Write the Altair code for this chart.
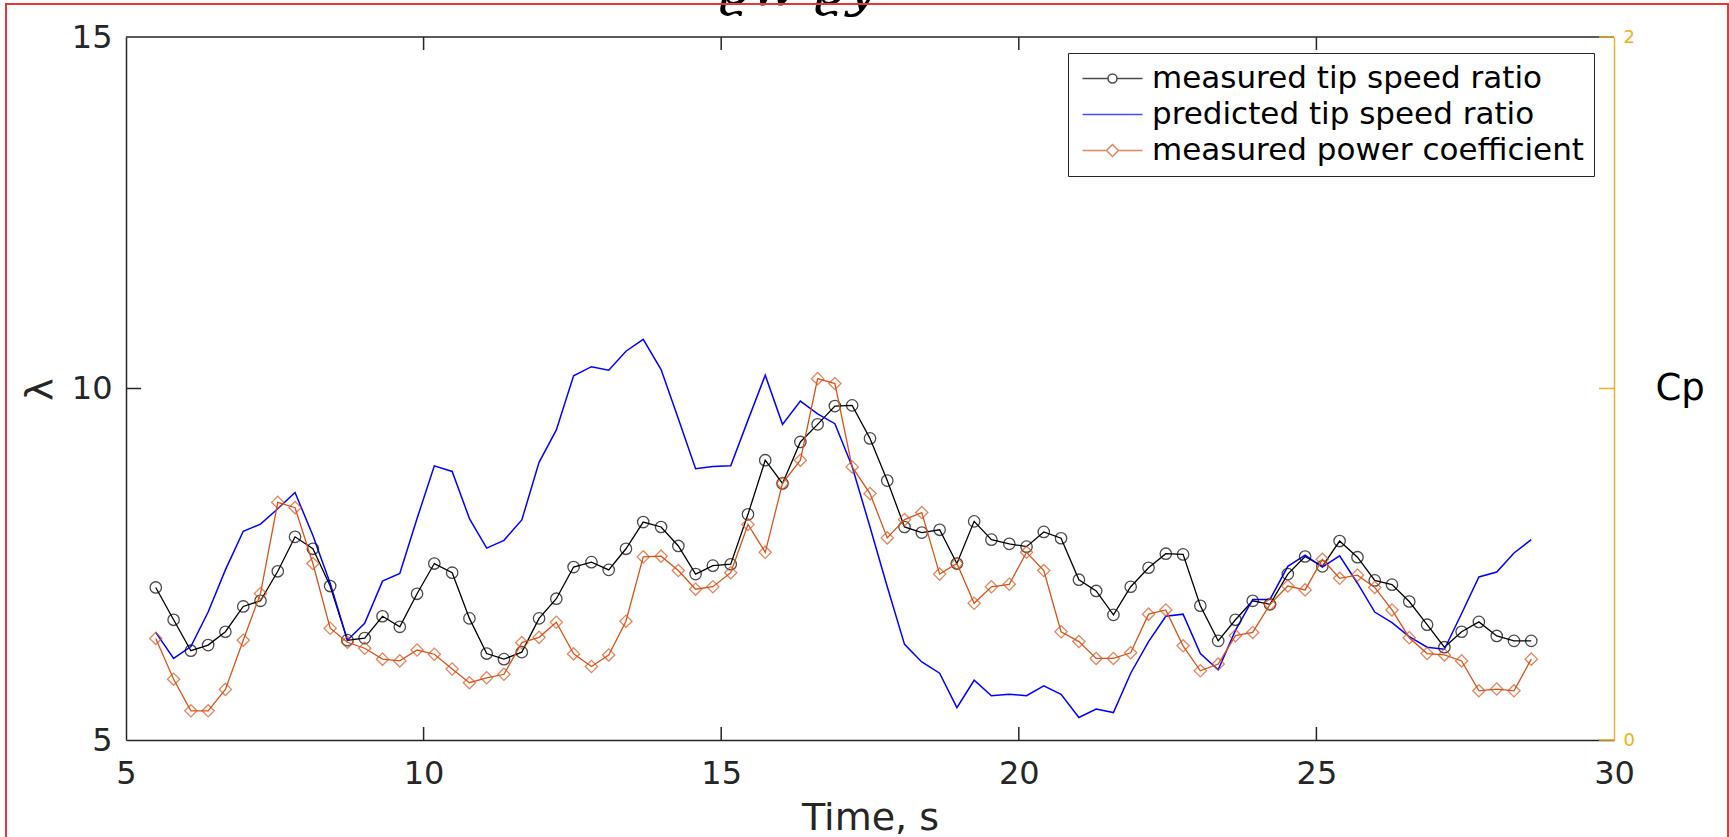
import altair as alt
import pandas as pd

# ---------------- data ----------------
time_s = [5.50, 5.80, 6.09, 6.38, 6.67, 6.97, 7.26, 7.55, 7.84, 8.14,
          8.43, 8.72, 9.01, 9.31, 9.60, 9.89, 10.18, 10.48, 10.77, 11.06,
          11.35, 11.65, 11.94, 12.23, 12.52, 12.82, 13.11, 13.40, 13.69, 13.99,
          14.28, 14.57, 14.86, 15.16, 15.45, 15.74, 16.03, 16.33, 16.62, 16.91,
          17.20, 17.50, 17.79, 18.08, 18.37, 18.67, 18.96, 19.25, 19.54, 19.84,
          20.13, 20.42, 20.71, 21.01, 21.30, 21.59, 21.88, 22.18, 22.47, 22.76,
          23.05, 23.35, 23.64, 23.93, 24.22, 24.52, 24.81, 25.10, 25.39, 25.69,
          25.98, 26.27, 26.56, 26.86, 27.15, 27.44, 27.73, 28.03, 28.32, 28.61]

lambda_measured = [7.17, 6.71, 6.27, 6.35, 6.54, 6.90, 6.98, 7.40, 7.89, 7.72,
                   7.19, 6.42, 6.45, 6.76, 6.61, 7.08, 7.51, 7.38, 6.73, 6.23,
                   6.15, 6.25, 6.73, 7.01, 7.46, 7.53, 7.42, 7.72, 8.10, 8.03,
                   7.76, 7.36, 7.48, 7.50, 8.21, 8.98, 8.65, 9.24, 9.49, 9.75,
                   9.76, 9.29, 8.69, 8.03, 7.95, 7.99, 7.51, 8.11, 7.85, 7.79,
                   7.75, 7.96, 7.87, 7.28, 7.12, 6.78, 7.18, 7.45, 7.65, 7.64,
                   6.91, 6.41, 6.71, 6.98, 6.93, 7.36, 7.61, 7.47, 7.83, 7.60,
                   7.27, 7.21, 6.97, 6.64, 6.32, 6.54, 6.68, 6.48, 6.41, 6.41]

lambda_predicted = [6.53, 6.16, 6.33, 6.82, 7.42, 7.97, 8.07, 8.29, 8.52, 7.91,
                    7.23, 6.42, 6.66, 7.26, 7.37, 8.15, 8.90, 8.82, 8.15, 7.73,
                    7.84, 8.13, 8.95, 9.41, 10.18, 10.31, 10.26, 10.53, 10.70, 10.27,
                    9.57, 8.86, 8.89, 8.90, 9.55, 10.19, 9.49, 9.82, 9.64, 9.50,
                    8.89, 8.03, 7.18, 6.36, 6.11, 5.95, 5.46, 5.85, 5.63, 5.65,
                    5.63, 5.77, 5.65, 5.32, 5.44, 5.39, 5.95, 6.40, 6.76, 6.79,
                    6.23, 6.00, 6.56, 7.00, 7.00, 7.47, 7.63, 7.46, 7.62, 7.23,
                    6.82, 6.67, 6.47, 6.32, 6.29, 6.80, 7.32, 7.39, 7.66, 7.85]

cp_measured = [0.289, 0.173, 0.083, 0.083, 0.144, 0.284, 0.417, 0.676, 0.661, 0.502,
               0.318, 0.278, 0.261, 0.230, 0.225, 0.256, 0.244, 0.202, 0.163, 0.177,
               0.187, 0.277, 0.292, 0.335, 0.245, 0.209, 0.242, 0.338, 0.521, 0.523,
               0.482, 0.429, 0.436, 0.476, 0.613, 0.534, 0.730, 0.796, 1.028, 1.014,
               0.777, 0.701, 0.575, 0.627, 0.647, 0.472, 0.502, 0.389, 0.436, 0.443,
               0.534, 0.482, 0.308, 0.280, 0.232, 0.232, 0.248, 0.358, 0.370, 0.268,
               0.197, 0.216, 0.297, 0.306, 0.386, 0.438, 0.427, 0.514, 0.460, 0.469,
               0.434, 0.370, 0.291, 0.246, 0.242, 0.225, 0.140, 0.145, 0.140, 0.230]

series_names = ["measured tip speed ratio", "predicted tip speed ratio",
                "measured power coefficient"]
series_colors = ["#000000", "#0000FF", "#D95319"]
x_tick_values = [5, 10, 15, 20, 25, 30]
x_inner_ticks = [10, 15, 20, 25]
lam_tick_values = [5, 10, 15]
lam_inner_ticks = [10]
cp_tick_values = [0, 1, 2]
title_text = "ϱw  ϱy"

# ---------------- styling ----------------
W, H = 1488, 703
FONT = "DejaVu Sans"
AX = "#262626"
CP_AXIS = "#EDB120"

df = pd.DataFrame({"t": time_s, "lam_meas": lambda_measured,
                   "lam_pred": lambda_predicted, "cp": cp_measured})
legend_df = pd.DataFrame({"series": series_names})
xt_df = pd.DataFrame({"v": x_inner_ticks})
yt_df = pd.DataFrame({"v": lam_inner_ticks})
ct_df = pd.DataFrame({"v": cp_tick_values})
one_df = pd.DataFrame({"title": [title_text]})

xscale = alt.Scale(domain=[5, 30], nice=False, zero=False)
lscale = alt.Scale(domain=[5, 15], nice=False, zero=False)
cscale = alt.Scale(domain=[0, 2], nice=False, zero=False)

x_axis = alt.Axis(values=x_tick_values, format="d", ticks=False, tickSize=0, grid=False,
                  labelFont=FONT, labelFontSize=32, labelColor=AX, labelPadding=18,
                  labelFlush=False, domainColor=AX, domainWidth=1.5,
                  title="Time, s", titleFont=FONT, titleFontSize=38, titleColor=AX,
                  titleFontWeight="normal", titleY=89, titleBaseline="alphabetic")
l_axis = alt.Axis(values=lam_tick_values, format="d", ticks=False, tickSize=0, grid=False,
                  labelFont=FONT, labelFontSize=32, labelColor=AX, labelPadding=14,
                  domainColor=AX, domainWidth=1.5,
                  title="λ", titleFont=FONT, titleFontSize=38, titleColor=AX,
                  titleFontWeight="normal", titleAngle=270, titleX=-86, titleY=352,
                  titleAlign="center", titleBaseline="middle")
c_axis = alt.Axis(orient="right", values=cp_tick_values, format="d", ticks=False,
                  tickSize=0, grid=False, labelFont=FONT, labelFontSize=18,
                  labelColor=CP_AXIS, labelPadding=9, domainColor=CP_AXIS,
                  domainWidth=1.5,
                  title="Cp", titleFont=FONT, titleFontSize=37, titleColor="black",
                  titleFontWeight="normal", titleAngle=0, titleX=41, titleY=351,
                  titleAlign="left", titleBaseline="middle")

base = alt.Chart(df)

meas_line = base.mark_line(color=series_colors[0], strokeWidth=1.3).encode(
    x=alt.X("t:Q", scale=xscale, axis=x_axis),
    y=alt.Y("lam_meas:Q", scale=lscale, axis=l_axis))
pred_line = base.mark_line(color=series_colors[1], strokeWidth=1.5).encode(
    x=alt.X("t:Q", scale=xscale),
    y=alt.Y("lam_pred:Q", scale=lscale))
meas_pts = base.mark_point(shape="circle", size=130, filled=False,
                           color=series_colors[0], strokeWidth=1.3).encode(
    x=alt.X("t:Q", scale=xscale),
    y=alt.Y("lam_meas:Q", scale=lscale))

xt_bottom = alt.Chart(xt_df).mark_rule(color=AX, strokeWidth=1.5).encode(
    x=alt.X("v:Q", scale=xscale), y=alt.value(H), y2=alt.value(H - 13))
xt_top = alt.Chart(xt_df).mark_rule(color=AX, strokeWidth=1.5).encode(
    x=alt.X("v:Q", scale=xscale), y=alt.value(0), y2=alt.value(13))
top_frame = alt.Chart(one_df).mark_rule(color=AX, strokeWidth=1.5).encode(
    x=alt.value(0), x2=alt.value(W), y=alt.value(0))
yt_left = alt.Chart(yt_df).mark_rule(color=AX, strokeWidth=1.5).encode(
    y=alt.Y("v:Q", scale=lscale), x=alt.value(0), x2=alt.value(15))

shape_paths = [
    "M-3,0H-0.45M0.45,0H3M-0.45,0A0.45,0.45,0,1,0,0.45,0A0.45,0.45,0,1,0,-0.45,0",
    "M-3,0H3",
    "M-3,0H-0.6M0.6,0H3M-0.6,0L0,-0.6L0.6,0L0,0.6Z",
]
leg = alt.Legend(title=None, orient="none", legendX=942, legendY=16,
                 labelFont=FONT, labelFontSize=31, labelColor="black",
                 labelLimit=800, symbolSize=400, symbolStrokeWidth=1.5,
                 symbolOffset=19, labelOffset=24, padding=10,
                 rowPadding=4, strokeColor=AX, fillColor="white")
legend_layer = alt.Chart(legend_df).mark_point(filled=False, size=400,
                                               strokeWidth=1.5).encode(
    color=alt.Color("series:N", scale=alt.Scale(domain=series_names, range=series_colors),
                    legend=leg),
    shape=alt.Shape("series:N", scale=alt.Scale(domain=series_names, range=shape_paths),
                    legend=leg),
).transform_filter("false")

title_mark = alt.Chart(one_df).mark_text(font="DejaVu Serif", fontStyle="italic",
                                         fontSize=54, align="center",
                                         baseline="alphabetic", color="black").encode(
    x=alt.value(672), y=alt.value(-32), text="title:N")
border = alt.Chart(one_df).mark_rect(fillOpacity=0, stroke="#E53935",
                                     strokeWidth=2).encode(
    x=alt.value(-120), x2=alt.value(1602), y=alt.value(-33), y2=alt.value(812))

left = alt.layer(meas_line, pred_line, meas_pts, xt_bottom, xt_top, top_frame,
                 yt_left, legend_layer)

cp_line = base.mark_line(color=series_colors[2], strokeWidth=1.3).encode(
    x=alt.X("t:Q", scale=xscale),
    y=alt.Y("cp:Q", scale=cscale, axis=c_axis))
cp_pts = base.mark_point(shape="diamond", size=150, filled=False,
                         color=series_colors[2], strokeWidth=1.3).encode(
    x=alt.X("t:Q", scale=xscale),
    y=alt.Y("cp:Q", scale=cscale))
ct_right = alt.Chart(ct_df).mark_rule(color=CP_AXIS, strokeWidth=1.5).encode(
    y=alt.Y("v:Q", scale=cscale), x=alt.value(W), x2=alt.value(W - 15))
right = alt.layer(cp_line, cp_pts, ct_right)

chart = alt.layer(left, right, title_mark, border).resolve_scale(
    y="independent"
).properties(
    width=W, height=H,
    autosize=alt.AutoSizeParams(type="none"),
    padding={"left": 126, "top": 37, "right": 115, "bottom": 97},
    background="white",
).configure_view(strokeWidth=0)

chart.save("out.html", embed_options={"renderer": "svg", "actions": False})
